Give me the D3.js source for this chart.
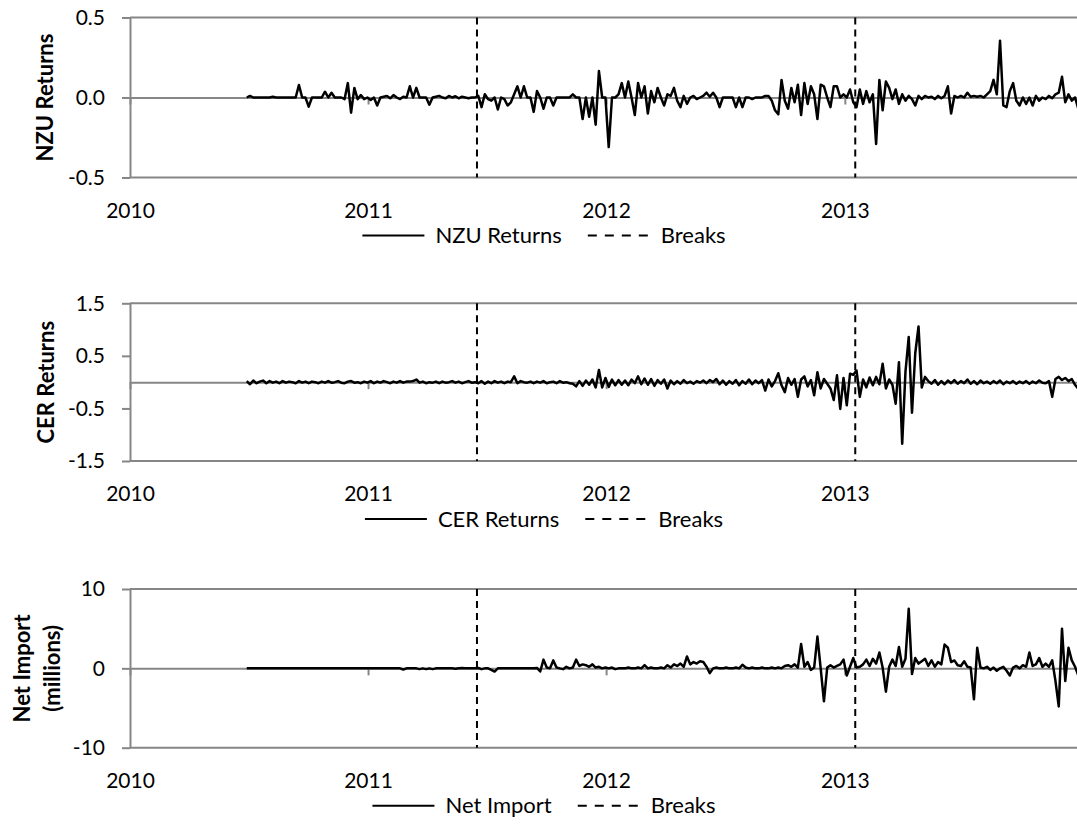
<!DOCTYPE html>
<html>
<head>
<meta charset="utf-8">
<script src="https://cdn.jsdelivr.net/npm/d3@7"></script>
<style>
  body { margin: 0; background: #fff; }
  svg text { font-family: Lato, "Open Sans", sans-serif; fill: #000; }
</style>
</head>
<body>
<svg id="chart" width="1077" height="825"></svg>
<script>
/* Data: one value every 5 days, starting at startDate */
const startDate = "2010-06-29";
const stepDays = 5;
const breakDates = ["2011-06-17", "2013-01-17"];
const yearTicks = ["2010-01-01", "2011-01-01", "2012-01-01", "2013-01-01"];

const nzuReturns = [
  0, 0.01, 0, 0, 0, 0, 0, 0, 0.005, 0,
  0, 0, 0, 0, 0, 0, 0.078, 0, 0, -0.057,
  0, 0, 0, 0, 0.036, 0, 0.03, 0, 0, 0,
  -0.01, 0.09, -0.095, 0.06, -0.01, 0.015, -0.01, 0, -0.015, 0,
  -0.05, 0, 0.005, 0.01, -0.005, 0.015, 0, -0.01, 0.005, 0,
  0.07, 0, 0.06, 0, 0, 0, -0.045, 0, 0.005, 0.01,
  0, -0.005, 0.01, 0, 0.008, -0.005, 0.005, 0, -0.005, 0,
  0, 0.01, -0.06, 0.02, -0.01, -0.02, 0, -0.075, 0, -0.01,
  -0.05, -0.03, 0.02, 0.07, 0, 0.07, 0, 0, -0.09, 0.04,
  0, -0.07, 0, 0, -0.05, 0, 0, 0, 0, 0,
  0.02, 0, 0, -0.135, 0, -0.12, 0, -0.17, 0.165, 0,
  0, -0.31, 0, 0, 0.02, 0.09, 0, 0.1, 0, -0.11,
  0.09, 0, 0.07, -0.1, 0.04, -0.03, 0.06, 0, -0.05, 0.02,
  0.01, 0.06, -0.02, -0.06, 0.01, -0.04, 0, 0.01, -0.01, 0,
  0.01, 0.03, 0.005, 0.03, 0, -0.06, 0, 0, 0, 0,
  -0.06, 0, -0.06, 0, 0, -0.01, 0, 0, 0, 0.01,
  0.01, -0.02, -0.08, -0.105, 0.11, -0.02, -0.07, 0.06, -0.03, 0.08,
  -0.11, 0.09, -0.04, 0.07, 0.02, -0.135, 0.08, 0.07, 0, -0.06,
  0.07, 0.07, 0, 0.02, 0, 0.05, -0.03, -0.06, 0.05, -0.04,
  0.04, -0.03, 0.02, -0.29, 0.11, -0.08, 0.1, 0.06, -0.01, 0.05,
  -0.04, 0.02, -0.02, 0.01, -0.01, -0.05, 0.01, -0.01, 0.01, 0,
  0.005, -0.01, 0.01, -0.005, 0.01, 0.07, -0.1, 0.01, 0, 0.01,
  0, 0.03, 0.005, 0.01, 0.005, 0.01, 0, 0.02, 0.04, 0.11,
  0.02, 0.355, -0.05, -0.06, 0.04, 0.09, -0.02, -0.05, 0, -0.04,
  0, -0.05, 0.01, -0.02, 0, -0.01, 0.01, -0.005, 0.02, 0.03,
  0.13, -0.03, 0.02, -0.02, 0, -0.07
];

const cerReturns = [
  0.02, -0.04, 0.03, -0.02, 0.01, 0.03, -0.02, 0.02, -0.01, 0.01,
  -0.02, 0.02, -0.01, 0.01, 0, -0.02, 0.02, -0.01, 0.01, -0.02,
  0.01, 0, -0.02, 0.01, -0.01, 0.02, -0.01, 0, 0.02, -0.01,
  -0.02, 0.01, 0.02, -0.01, 0, -0.02, 0.01, -0.01, 0.02, -0.02,
  0.01, -0.01, 0.02, 0, -0.02, 0.01, -0.01, 0.02, -0.01, 0.01,
  0.01, 0.02, 0.05, -0.01, 0.01, -0.02, 0, -0.01, 0.01, -0.02,
  0.01, -0.01, 0, 0.02, -0.01, 0.01, -0.02, 0, 0.02, -0.01,
  0, -0.02, 0.02, -0.03, 0.01, -0.02, 0.02, -0.01, 0.01, -0.02,
  0.01, 0, 0.11, -0.02, 0.02, 0, -0.01, 0.01, -0.02, 0.01,
  -0.01, 0.02, -0.02, 0, 0.01, -0.02, 0.02, -0.01, 0, -0.02,
  -0.03, -0.08, 0.02, -0.07, 0.03, -0.05, 0.05, -0.1, 0.23, -0.1,
  0.08, -0.09, 0.05, -0.06, 0.04, -0.05, 0.03, -0.06, 0.05, -0.02,
  0.11, -0.04, 0.07, -0.05, 0.06, -0.07, 0.04, -0.03, 0.05, -0.12,
  0.03, -0.04, 0.02, -0.03, 0.04, -0.02, 0.01, -0.03, 0.02, -0.01,
  0.03, -0.02, 0.04, 0, 0.06, -0.04, 0.03, -0.05, 0.02, -0.03,
  0.04, -0.06, 0.02, -0.03, 0.05, -0.04, 0.03, -0.02, 0.04, -0.16,
  0.05, -0.08, 0.02, 0.17, -0.06, -0.19, 0.08, -0.05, 0.06, -0.28,
  0.05, 0.11, -0.08, 0.04, -0.25, 0.19, -0.12, 0.06, -0.03, -0.12,
  -0.34, 0.13, -0.51, 0.08, -0.44, 0.16, 0.14, 0.22, -0.28, 0.05,
  -0.1, 0.09, -0.06, 0.1, -0.04, 0.35, -0.12, 0.05, -0.05, -0.41,
  0.38, -1.17, 0.2, 0.86, -0.58, 0.55, 1.06, -0.1, 0.1, 0.02,
  -0.03, 0.04, -0.05, 0.02, -0.04, 0.03, -0.02, 0.04, -0.03, 0.02,
  -0.02, 0.05, -0.03, 0.02, -0.04, 0.03, -0.02, 0.01, -0.03, 0.02,
  -0.02, 0.03, -0.04, 0.01, -0.02, 0.02, -0.03, 0.01, -0.02, 0.02,
  -0.03, 0.01, -0.02, 0.03, -0.01, -0.02, 0.02, -0.28, 0.06, 0.1,
  0.04, 0.08, 0.02, 0.06, -0.05, -0.13
];

const netImport = [
  0, 0, 0, 0, 0, 0, 0, 0, 0, 0,
  0, 0, 0, 0, 0, 0, 0, 0, 0, 0,
  0, 0, 0, 0, 0, 0, 0, 0, 0, 0,
  0, 0, 0, 0, 0, 0, 0, 0, 0, 0,
  0, 0, 0, 0, 0, 0, 0, 0, -0.15, 0,
  0, 0, 0, -0.1, 0, -0.1, 0, -0.1, 0, 0,
  0, 0, 0, 0, -0.05, 0, 0.05, 0, 0, 0,
  0, 0.05, -0.1, 0, 0, -0.2, -0.4, 0, 0, 0,
  0, 0, 0, 0, 0, 0, 0, 0, 0, 0.05,
  -0.4, 1.1, 0.1, 0, 1.0, 0.1, 0, -0.1, 0.2, 0,
  0.1, 1.1, 0.3, 0.5, 0.4, 0.2, 0.5, 0.1, 0.2, 0,
  0.1, 0, 0.1, -0.1, 0, 0, 0, 0.1, 0, 0,
  0.1, 0, 0.4, 0, 0.1, 0, 0, 0.1, 0, 0.4,
  0.1, 0.5, 0.3, 0.6, 0.2, 1.5, 0.5, 0.8, 0.6, 0.9,
  0.8, 0.2, -0.6, 0, 0.1, 0, 0, 0.1, 0, 0,
  0.1, 0, 0.45, 0.1, 0, 0.1, 0, 0, 0.1, 0,
  0, 0.1, 0, 0.1, 0, 0.3, 0.4, 0.2, 0.5, 0.1,
  3.07, 0.2, 0.8, -0.2, 0.1, 4.0, 0, -4.16, 0.1, 0.4,
  0.1, 0.3, 0.5, 1.1, -0.9, 0.2, 1.3, 0.1, 0.2, 0.5,
  1.1, 0.3, 1.2, 0.6, 2.0, 0.1, -2.94, 0.2, 1.1, 0.3,
  2.7, 0.2, 1.2, 7.5, -0.7, 1.3, 0.6, 0.9, 1.2, 0.3,
  1.0, 0.2, 0.8, 0.5, 3.0, 2.6, 0.8, 1.0, 0.4, 0.3,
  0.9, 0.2, 0.1, -3.9, 2.6, 0.1, 0, 0.2, -0.2, 0.1,
  -0.3, 0, 0.2, -0.3, -0.9, 0.1, 0.3, 0, 0.4, 0.2,
  2.0, 0.3, 0.5, 1.3, 0.2, 0.6, 0.2, 1.0, -1.6, -4.8,
  5.0, -1.6, 2.6, 1.0, 0.2, -0.9
];

const nzuTicks = [-0.5, 0, 0.5];
const cerTicks = [-1.5, -0.5, 0.5, 1.5];
const importTicks = [-10, 0, 10];

/* Layout */
const left = 130, right = 1077;
const axisGrey = "#868686";
const fontSize = 21;

const parseDate = d3.timeParse("%Y-%m-%d");
const locale = d3.formatLocale({decimal: ".", thousands: ",", grouping: [3], currency: ["", ""], minus: "-"});

const x = d3.scaleTime()
    .domain([parseDate("2010-01-01"), parseDate("2013-12-23")])
    .range([left, right]);

const panels = [
    {values: nzuReturns, ticks: nzuTicks, domain: [-0.5, 0.5], fmt: ".1f",
     title: ["NZU Returns"], titleX: [45], label: "NZU Returns", top: 17.5, bottom: 177.5},
    {values: cerReturns, ticks: cerTicks, domain: [-1.5, 1.5], fmt: ".1f",
     title: ["CER Returns"], titleX: [46], label: "CER Returns", top: 303.3, bottom: 461},
    {values: netImport, ticks: importTicks, domain: [-10, 10], fmt: "d",
     title: ["Net Import", "(millions)"], titleX: [22, 52], label: "Net Import", top: 589, bottom: 747.7}
];

const svg = d3.select("#chart");

panels.forEach(function(p, k){
    const y = d3.scaleLinear().domain(p.domain).range([p.bottom, p.top]);
    const y0 = y(0);
    const g = svg.append("g");

    /* clip for the data line */
    g.append("clipPath").attr("id", "clip" + k)
      .append("rect")
        .attr("x", left).attr("y", p.top - 10)
        .attr("width", right - left).attr("height", p.bottom - p.top + 20);

    /* top and bottom border of plot area */
    [p.top, p.bottom].forEach(function(yy){
        g.append("line")
            .attr("x1", left).attr("x2", right + 5)
            .attr("y1", yy).attr("y2", yy)
            .attr("stroke", axisGrey).attr("stroke-width", 2);
    });

    /* y axis */
    const yAxis = g.append("g")
        .attr("transform", "translate(" + left + ",0)")
        .call(d3.axisLeft(y).tickValues(p.ticks).tickSize(8).tickSizeOuter(0)
            .tickPadding(17).tickFormat(locale.format(p.fmt)));
    yAxis.select(".domain").attr("stroke", axisGrey).attr("stroke-width", 2);
    yAxis.selectAll(".tick line").attr("stroke", axisGrey).attr("stroke-width", 2);
    yAxis.selectAll(".tick text").style("font-size", fontSize + "px");

    /* x axis along zero, labels placed low */
    const xAxis = g.append("g")
        .attr("transform", "translate(0," + y0 + ")")
        .call(d3.axisBottom(x).tickValues(yearTicks.map(parseDate)).tickSize(7).tickSizeOuter(0)
            .tickFormat(d3.timeFormat("%Y")));
    xAxis.select(".domain").attr("stroke", axisGrey).attr("stroke-width", 2);
    xAxis.selectAll(".tick line").attr("stroke", axisGrey).attr("stroke-width", 2);
    xAxis.selectAll(".tick text")
        .style("font-size", fontSize + "px")
        .attr("y", p.bottom - y0 + 33)
        .attr("dy", "0.35em");

    /* break lines */
    breakDates.forEach(function(b){
        g.append("line")
            .attr("x1", x(parseDate(b))).attr("x2", x(parseDate(b)))
            .attr("y1", p.top).attr("y2", p.bottom)
            .attr("stroke", "#000").attr("stroke-width", 2)
            .attr("stroke-dasharray", "7,5");
    });

    /* data line */
    const data = p.values.map(function(v, i){
        return {date: d3.timeDay.offset(parseDate(startDate), i * stepDays), value: v};
    });
    const valueline = d3.line()
        .x(function(d){ return x(d.date); })
        .y(function(d){ return y(d.value); });
    g.append("path")
        .datum(data)
        .attr("clip-path", "url(#clip" + k + ")")
        .attr("fill", "none")
        .attr("stroke", "#000")
        .attr("stroke-width", 2.5)
        .attr("stroke-linejoin", "round")
        .attr("d", valueline);

    /* y axis title */
    const midY = (p.top + p.bottom) / 2;
    p.title.forEach(function(t, j){
        g.append("text")
            .attr("transform", "translate(" + p.titleX[j] + "," + midY + ") rotate(-90)")
            .attr("text-anchor", "middle")
            .attr("dy", "0.35em")
            .style("font-size", "22px")
            .style("font-weight", "bold")
            .text(t);
    });

    /* legend */
    const ly = p.bottom + 58;
    const leg = g.append("g");
    const t1 = leg.append("text").attr("dy", "0.35em").attr("y", ly)
        .style("font-size", "22px").text(p.label);
    const t2 = leg.append("text").attr("dy", "0.35em").attr("y", ly)
        .style("font-size", "22px").text("Breaks");
    const w1 = t1.node().getComputedTextLength();
    const w2 = t2.node().getComputedTextLength();
    const symW = 62, gap = 11, between = 26;
    const total = symW + gap + w1 + between + symW + gap + w2;
    let cx = 544 - total / 2;
    leg.append("line").attr("x1", cx).attr("x2", cx + symW).attr("y1", ly).attr("y2", ly)
        .attr("stroke", "#000").attr("stroke-width", 2);
    cx += symW + gap;
    t1.attr("x", cx);
    cx += w1 + between;
    leg.append("line").attr("x1", cx).attr("x2", cx + symW).attr("y1", ly).attr("y2", ly)
        .attr("stroke", "#000").attr("stroke-width", 2).attr("stroke-dasharray", "9,8");
    cx += symW + gap;
    t2.attr("x", cx);
});
</script>
</body>
</html>
